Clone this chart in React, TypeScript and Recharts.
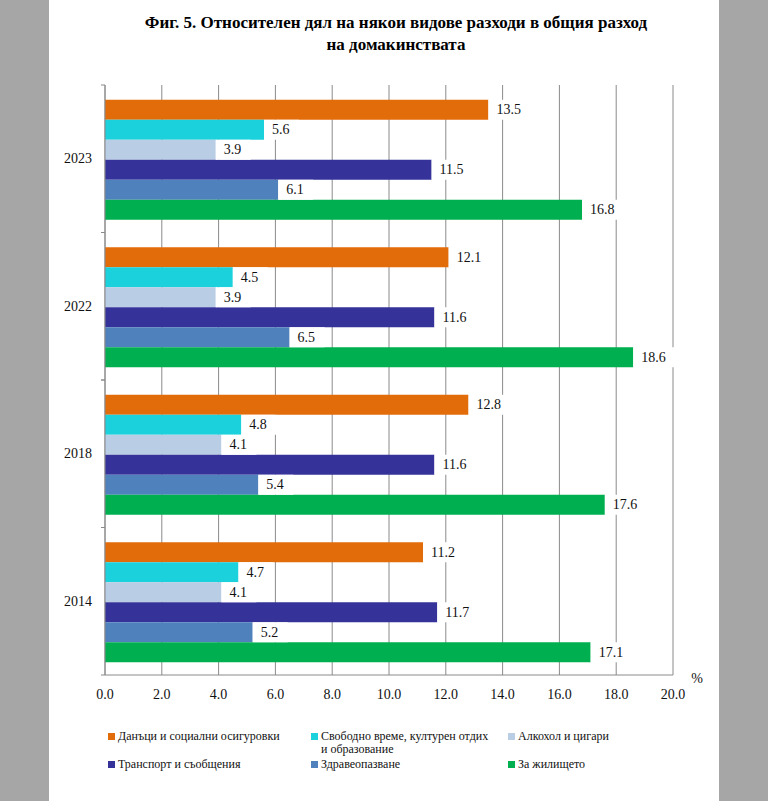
import React from 'react'
import { BarChart, Bar, XAxis, YAxis, CartesianGrid, LabelList } from 'recharts'

const years = ['2023', '2022', '2018', '2014']
const taxes = [13.5, 12.1, 12.8, 11.2]
const leisure = [5.6, 4.5, 4.8, 4.7]
const alcohol = [3.9, 3.9, 4.1, 4.1]
const transport = [11.5, 11.6, 11.6, 11.7]
const health = [6.1, 6.5, 5.4, 5.2]
const housing = [16.8, 18.6, 17.6, 17.1]
const xTicks = [0, 2, 4, 6, 8, 10, 12, 14, 16, 18, 20]

const series = [
  { key: 'taxes', name: 'Данъци и социални осигуровки', color: '#e36c0a', values: taxes },
  { key: 'leisure', name: 'Свободно време, културен отдих\nи образование', color: '#1ad1dc', values: leisure },
  { key: 'alcohol', name: 'Алкохол и цигари', color: '#b9cde5', values: alcohol },
  { key: 'transport', name: 'Транспорт и съобщения', color: '#35339a', values: transport },
  { key: 'health', name: 'Здравеопазване', color: '#4f81bd', values: health },
  { key: 'housing', name: 'За жилището', color: '#00b050', values: housing },
]

const data = years.map((year, i) => {
  const row: Record<string, string | number> = { year }
  series.forEach((s) => { row[s.key] = s.values[i] })
  return row
})

const FONT = '"Liberation Serif", "Times New Roman", serif'
const GRID = '#8a8a8a'
const PLOT_TOP = 85
const PLOT_BOTTOM = 675
const BAND = (PLOT_BOTTOM - PLOT_TOP) / years.length

// value label with a white box behind it, like the original
const ValueLabel = (props: any) => {
  const { x, y, width, height, value } = props
  const text = Number(value).toFixed(1)
  const boxW = text.length * 7 + 14
  return (
    <g>
      <rect x={x + width} y={y} width={boxW} height={height} fill="#fff" />
      <text x={x + width + 8} y={y + height / 2} dominantBaseline="central"
        fontFamily={FONT} fontSize={14} fill="#111">{text}</text>
    </g>
  )
}

const YearTick = (props: any) => {
  const { x, y, payload } = props
  const axisX = x + 13
  return (
    <g>
      <text x={x} y={y} textAnchor="end" dominantBaseline="central"
        fontFamily={FONT} fontSize={14} fill="#111">{payload.value}</text>
      <line x1={axisX - 4} x2={axisX} y1={y - BAND / 2} y2={y - BAND / 2} stroke={GRID} />
      <line x1={axisX - 4} x2={axisX} y1={y + BAND / 2} y2={y + BAND / 2} stroke={GRID} />
    </g>
  )
}

const PctTick = (props: any) => {
  const { x, y, payload } = props
  return (
    <text x={x} y={y + 11} textAnchor="middle" dominantBaseline="central"
      fontFamily={FONT} fontSize={14} fill="#111">{Number(payload.value).toFixed(1)}</text>
  )
}

const legendPos = [
  { left: 108, top: 737 },
  { left: 311, top: 737 },
  { left: 508, top: 737 },
  { left: 108, top: 765 },
  { left: 311, top: 765 },
  { left: 508, top: 765 },
]

export default function App() {
  return (
    <div style={{ position: 'absolute', left: 0, top: 0, width: 768, height: 801, background: '#a6a6a6', fontFamily: FONT }}>
      <div style={{ position: 'absolute', left: 49, top: 0, width: 670, height: 801, background: '#fff' }} />
      <div style={{ position: 'absolute', left: 0, top: 0 }}>
        <BarChart
          width={768}
          height={801}
          data={data}
          layout="vertical"
          margin={{ top: PLOT_TOP, right: 95, bottom: 96, left: 48 }}
          barCategoryGap="10%"
          barGap={0}
        >
          <text x={396} y={22} textAnchor="middle" dominantBaseline="central"
            fontFamily={FONT} fontSize={17} fontWeight="bold" fill="#000">
            Фиг. 5. Относителен дял на някои видове разходи в общия разход
          </text>
          <text x={396} y={44} textAnchor="middle" dominantBaseline="central"
            fontFamily={FONT} fontSize={17} fontWeight="bold" fill="#000">
            на домакинствата
          </text>
          <CartesianGrid horizontal={false} stroke={GRID} />
          <XAxis type="number" domain={[0, 20]} ticks={xTicks} height={30}
            axisLine={{ stroke: GRID }} tickLine={false} tick={<PctTick />} interval={0} />
          <YAxis type="category" dataKey="year" width={57} axisLine={{ stroke: GRID }}
            tickLine={false} tickSize={0} tickMargin={13} tick={<YearTick />} />
          {series.map((s) => (
            <Bar key={s.key} dataKey={s.key} name={s.name} fill={s.color} isAnimationActive={false}>
              <LabelList dataKey={s.key} content={<ValueLabel />} />
            </Bar>
          ))}
          <text x={697} y={678} textAnchor="middle" dominantBaseline="central"
            fontFamily={FONT} fontSize={14} fill="#111">%</text>
        </BarChart>
      </div>
      {series.map((s, i) => (
        <div key={s.key} style={{ position: 'absolute', left: legendPos[i].left, top: legendPos[i].top - 7, fontSize: 12, color: '#111', lineHeight: '13px', display: 'flex' }}>
          <div style={{ width: 7, height: 7, background: s.color, marginTop: 3, marginRight: 3, flexShrink: 0 }} />
          <div style={{ whiteSpace: 'pre-line' }}>{s.name}</div>
        </div>
      ))}
    </div>
  )
}
